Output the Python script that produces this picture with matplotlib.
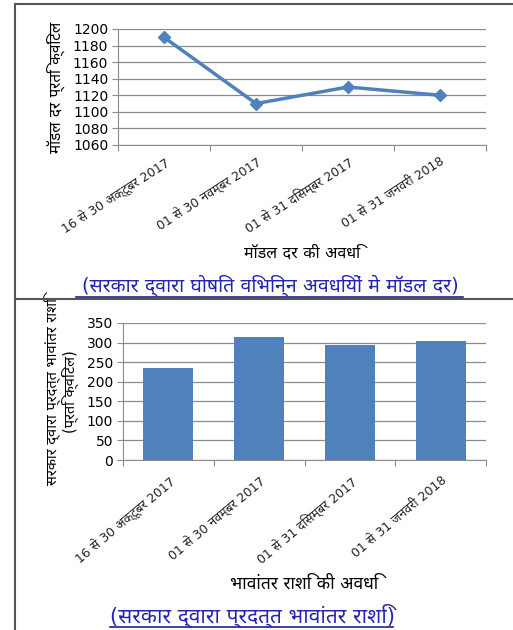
import matplotlib
matplotlib.use('Agg')
import matplotlib.pyplot as plt
from matplotlib import font_manager
from matplotlib.ft2font import FT2Font
from matplotlib.lines import Line2D

# find an installed font that has Devanagari glyphs
def find_devanagari():
    found = []
    for f in font_manager.fontManager.ttflist:
        try:
            cmap = FT2Font(f.fname).get_charmap()
        except Exception:
            continue
        if 0x0915 in cmap and 0x093F in cmap:
            found.append(f.name)
    for pref in ['Noto Sans Devanagari', 'Lohit Devanagari', 'Mangal', 'FreeSans']:
        if pref in found:
            return pref
    return found[0] if found else None

dev = find_devanagari()
families = ['DejaVu Sans'] + ([dev] if dev else [])
plt.rcParams['font.family'] = families

periods = ["16 से 30 अक्टूबर 2017", "01 से 30 नवम्बर 2017",
           "01 से 31 दिसम्बर 2017", "01 से 31 जनवरी 2018"]
model_rate = [1190, 1110, 1130, 1120]
bhavantar = [235, 315, 295, 305]

W, H = 513, 630
fig = plt.figure(figsize=(W / 100, H / 100), dpi=100)

def box(x0, x1, y0, y1):
    return [x0 / W, 1 - y1 / H, (x1 - x0) / W, (y1 - y0) / H]

blue = '#4F81BD'
grid = '#8c8c8c'

def style(ax, ymin, ymax, step, rot, pad, fs):
    ax.set_xlim(-0.5, len(periods) - 0.5)
    ax.set_ylim(ymin, ymax)
    ax.set_yticks(range(ymin, ymax + 1, step))
    ax.set_xticks([i - 0.5 for i in range(len(periods) + 1)])
    ax.set_xticklabels([])
    ax.set_xticks(range(len(periods)), minor=True)
    ax.set_xticklabels(periods, minor=True, rotation=rot, ha='right',
                       rotation_mode='anchor', fontsize=fs, color='#222222')
    ax.tick_params(axis='x', which='minor', length=0, pad=pad)
    ax.tick_params(axis='x', which='major', length=4, color=grid)
    ax.tick_params(axis='y', length=4, color=grid, labelsize=10, pad=3)
    ax.grid(axis='y', color=grid, linewidth=0.9)
    ax.set_axisbelow(True)
    for s in ['top', 'right']:
        ax.spines[s].set_visible(False)
    for s in ['left', 'bottom']:
        ax.spines[s].set_color(grid)

# top chart: model rate
ax1 = fig.add_axes(box(118, 486, 29, 145))
ax1.plot(range(len(periods)), model_rate, color=blue, linewidth=2.5,
         marker='D', markersize=6.5)
style(ax1, 1060, 1200, 20, 33, 7, 9)
ax1.set_ylabel("मॉडल दर प्रति क्विंटल", fontsize=11, fontweight='bold',
               labelpad=6)
ax1.set_xlabel("मॉडल दर की अवधि", fontsize=11.5, fontweight='bold',
               labelpad=7)
fig.text(270 / W, 1 - 286 / H, "(सरकार द्वारा घोषित विभिन्न अवधियों मे मॉडल दर)",
         ha='center', va='center', fontsize=14, color='#2323b5')

# bottom chart: bhavantar amount
ax2 = fig.add_axes(box(123, 486, 323, 460))
ax2.bar(range(len(periods)), bhavantar, width=0.55, color=blue)
style(ax2, 0, 350, 50, 40, 10, 9)
ax2.set_ylabel("सरकार द्वारा प्रदत्त भावांतर राशि\n(प्रति क्विंटल)",
               fontsize=10.5, labelpad=6, linespacing=1.0)
ax2.set_xlabel("भावांतर राशि की अवधि", fontsize=12.5, labelpad=6)
fig.text(252 / W, 1 - 616 / H, "(सरकार द्वारा प्रदत्त भावांतर राशि)",
         ha='center', va='center', fontsize=15, color='#2323b5')

# caption underlines
fig.add_artist(Line2D([76 / W, 463 / W], [1 - 297 / H] * 2, color='#1f1f8f', lw=1.2))
fig.add_artist(Line2D([110 / W, 393 / W], [1 - 627 / H] * 2, color='#1f1f8f', lw=1.2))

# outer frames
frame = '#555555'
fig.add_artist(Line2D([14.5 / W] * 2, [0, 1 - 3.5 / H], color=frame, lw=1.5))
fig.add_artist(Line2D([14.5 / W, 1], [1 - 3.5 / H] * 2, color=frame, lw=1.5))
fig.add_artist(Line2D([14.5 / W, 1], [1 - 298.5 / H] * 2, color=frame, lw=1.5))

fig.savefig('out.png', dpi=100)
